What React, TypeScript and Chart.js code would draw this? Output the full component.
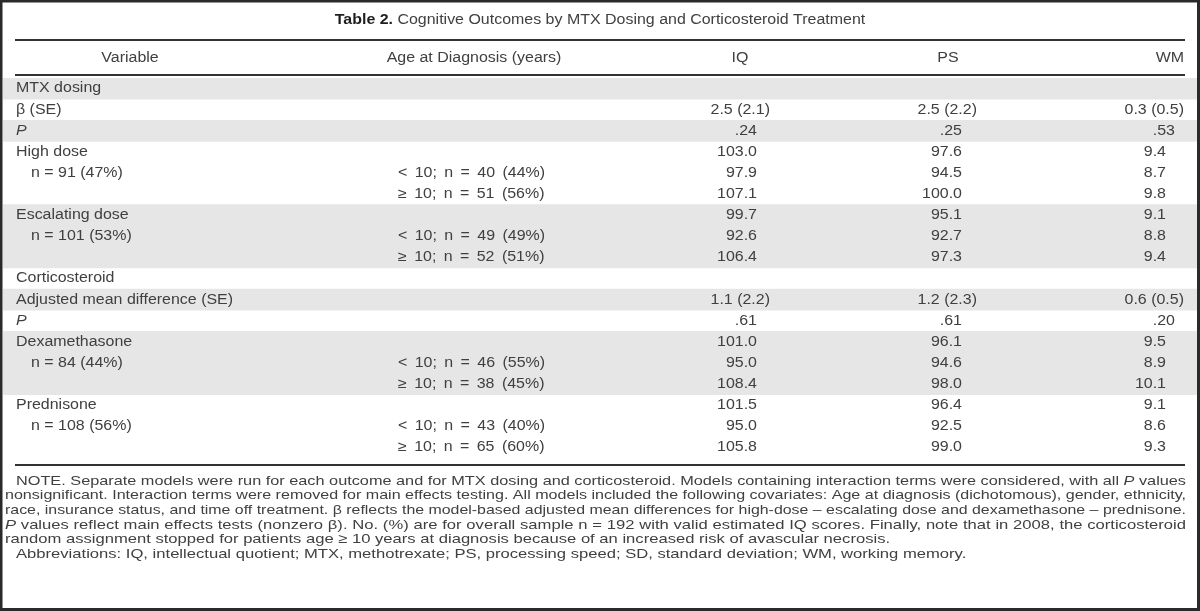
import React, { useEffect, useRef } from "react";
import { Chart, registerables } from "chart.js";

Chart.register(...registerables);

// ---------- data ----------
const TITLE_BOLD = "Table 2.";
const TITLE_REST = " Cognitive Outcomes by MTX Dosing and Corticosteroid Treatment";

const HEADERS = ["Variable", "Age at Diagnosis (years)", "IQ", "PS", "WM"];

const rowLabels = [
  "MTX dosing",
  "β (SE)",
  "P",
  "High dose",
  "n = 91 (47%)",
  "",
  "Escalating dose",
  "n = 101 (53%)",
  "",
  "Corticosteroid",
  "Adjusted mean difference (SE)",
  "P",
  "Dexamethasone",
  "n = 84 (44%)",
  "",
  "Prednisone",
  "n = 108 (56%)",
  "",
];
const rowIndent = [0, 0, 0, 0, 1, 0, 0, 1, 0, 0, 0, 0, 0, 1, 0, 0, 1, 0];
const rowItalic = [0, 0, 1, 0, 0, 0, 0, 0, 0, 0, 0, 1, 0, 0, 0, 0, 0, 0];
const rowShaded = [1, 0, 1, 0, 0, 0, 1, 1, 1, 0, 1, 0, 1, 1, 1, 0, 0, 0];
// kind of value in the numeric columns: n = number, p = P value, s = estimate (SE)
const rowKind = ["", "s", "p", "n", "n", "n", "n", "n", "n", "", "s", "p", "n", "n", "n", "n", "n", "n"];

const ageLabels = [
  "", "", "", "",
  "< 10; n = 40 (44%)",
  "≥ 10; n = 51 (56%)",
  "",
  "< 10; n = 49 (49%)",
  "≥ 10; n = 52 (51%)",
  "", "", "", "",
  "< 10; n = 46 (55%)",
  "≥ 10; n = 38 (45%)",
  "",
  "< 10; n = 43 (40%)",
  "≥ 10; n = 65 (60%)",
];

const iqValues = ["", "2.5 (2.1)", ".24", "103.0", "97.9", "107.1", "99.7", "92.6", "106.4", "", "1.1 (2.2)", ".61", "101.0", "95.0", "108.4", "101.5", "95.0", "105.8"];
const psValues = ["", "2.5 (2.2)", ".25", "97.6", "94.5", "100.0", "95.1", "92.7", "97.3", "", "1.2 (2.3)", ".61", "96.1", "94.6", "98.0", "96.4", "92.5", "99.0"];
const wmValues = ["", "0.3 (0.5)", ".53", "9.4", "8.7", "9.8", "9.1", "8.8", "9.4", "", "0.6 (0.5)", ".20", "9.5", "8.9", "10.1", "9.1", "8.6", "9.3"];

// words wrapped in _..._ are italic
const noteLines = [
  "NOTE. Separate models were run for each outcome and for MTX dosing and corticosteroid. Models containing interaction terms were considered, with all _P_ values",
  "nonsignificant. Interaction terms were removed for main effects testing. All models included the following covariates: Age at diagnosis (dichotomous), gender, ethnicity,",
  "race, insurance status, and time off treatment. β reflects the model-based adjusted mean differences for high-dose – escalating dose and dexamethasone – prednisone.",
  "_P_ values reflect main effects tests (nonzero β). No. (%) are for overall sample n = 192 with valid estimated IQ scores. Finally, note that in 2008, the corticosteroid",
  "random assignment stopped for patients age ≥ 10 years at diagnosis because of an increased risk of avascular necrosis.",
  "Abbreviations: IQ, intellectual quotient; MTX, methotrexate; PS, processing speed; SD, standard deviation; WM, working memory.",
];
const noteJustify = [1, 1, 1, 1, 0, 0];
const noteIndent = [1, 0, 0, 0, 0, 1];

// ---------- layout / style ----------
const W = 1200;
const H = 611;
const FONT = '"Liberation Sans", Arial, sans-serif';
const FS = 14;
const SX = 1.14; // horizontal stretch of the body text
const NFS = 13.5;
const NSX = 1.23; // horizontal stretch of the note text
const TEXT = "#404040";
const BAND = "#e6e6e6";
const RULE = "#333333";

const XMIN = 3;
const XMAX = 1198;

const TITLE_Y = 20;
const RULE1_Y = 40;
const HEADER_Y = 58;
const RULE2_Y = 75;
const ROWS_TOP = 78;
const ROWS_BOTTOM = 458;
const RULE3_Y = 465;
const NOTE_Y0 = 481;
const NOTE_PITCH = 14.6;

const RULE_L = 15;
const RULE_R = 1185;
const X_LABEL = 16;
const X_INDENT = 31;
const X_AGE = 398;
const AGE_WORD_SPACING = "2.6px";
const HEADER_X = [130, 474, 740, 948, 1184];
const COLS = [
  { values: iqValues, n: 757, p: 757, s: 770 },
  { values: psValues, n: 962, p: 962, s: 977 },
  { values: wmValues, n: 1166, p: 1175, s: 1184 },
];
const NOTE_L = 5;
const NOTE_L_INDENT = 16;
const NOTE_R = 1186;

function font(style = "normal", weight = "normal", size = FS) {
  return `${style} ${weight} ${size}px ${FONT}`;
}

function fillStretched(
  ctx: CanvasRenderingContext2D,
  text: string,
  x: number,
  y: number,
  align: CanvasTextAlign,
  sx: number
) {
  ctx.save();
  ctx.translate(x, y);
  ctx.scale(sx, 1);
  ctx.textAlign = align;
  ctx.fillText(text, 0, 0);
  ctx.restore();
}

function wordInfo(w: string) {
  const it = w.startsWith("_") && w.includes("_", 1);
  return { it, txt: it ? w.replace(/_/g, "") : w };
}

const tablePlugin = {
  id: "tableText",
  afterDatasetsDraw(chart: any) {
    const ctx: CanvasRenderingContext2D = chart.ctx;
    const y = chart.scales.y;
    const x = chart.scales.x;
    const px = (v: number) => x.getPixelForValue(v);
    ctx.save();
    ctx.fillStyle = TEXT;
    ctx.textBaseline = "middle";

    // title
    ctx.font = font("normal", "bold");
    const wb = ctx.measureText(TITLE_BOLD).width * SX;
    ctx.font = font();
    const wr = ctx.measureText(TITLE_REST).width * SX;
    const tx = W / 2 - (wb + wr) / 2;
    ctx.fillStyle = "#1e1e1e";
    ctx.font = font("normal", "bold");
    fillStretched(ctx, TITLE_BOLD, tx, TITLE_Y, "left", SX);
    ctx.fillStyle = TEXT;
    ctx.font = font();
    fillStretched(ctx, TITLE_REST, tx + wb, TITLE_Y, "left", SX);

    // rules
    ctx.strokeStyle = RULE;
    ctx.lineWidth = 2;
    [RULE1_Y, RULE2_Y, RULE3_Y].forEach((ry) => {
      ctx.beginPath();
      ctx.moveTo(RULE_L, ry);
      ctx.lineTo(RULE_R, ry);
      ctx.stroke();
    });

    // headers
    ctx.font = font();
    HEADERS.forEach((h, i) => {
      fillStretched(ctx, h, HEADER_X[i], HEADER_Y, i === 4 ? "right" : "center", SX);
    });

    // body
    rowLabels.forEach((lab, i) => {
      const cy = y.getPixelForValue(i);
      if (lab) {
        ctx.font = font(rowItalic[i] ? "italic" : "normal");
        fillStretched(ctx, lab, px(rowIndent[i] ? X_INDENT : X_LABEL), cy, "left", SX);
      }
      ctx.font = font();
      if (ageLabels[i]) {
        (ctx as any).wordSpacing = AGE_WORD_SPACING;
        fillStretched(ctx, ageLabels[i], px(X_AGE), cy, "left", SX);
        (ctx as any).wordSpacing = "0px";
      }
      COLS.forEach((c) => {
        const v = c.values[i];
        if (!v) return;
        const k = rowKind[i] as "n" | "p" | "s";
        fillStretched(ctx, v, px(c[k]), cy, "right", SX);
      });
    });

    // notes
    ctx.textAlign = "left";
    noteLines.forEach((line, i) => {
      const ly = NOTE_Y0 + i * NOTE_PITCH;
      const left = noteIndent[i] ? NOTE_L_INDENT : NOTE_L;
      const words = line.split(" ").map(wordInfo);
      const ws = words.map((w) => {
        ctx.font = font(w.it ? "italic" : "normal", "normal", NFS);
        return ctx.measureText(w.txt).width * NSX;
      });
      ctx.font = font("normal", "normal", NFS);
      const sp = ctx.measureText(" ").width * NSX;
      const sumW = ws.reduce((a, b) => a + b, 0);
      const natural = sumW + sp * (words.length - 1);
      const avail = NOTE_R - left;
      let k = 1;
      let gap = sp;
      if (natural > avail) {
        k = avail / natural;
      } else if (noteJustify[i]) {
        gap = (avail - sumW) / (words.length - 1);
      }
      let cx = left;
      words.forEach((w, j) => {
        ctx.font = font(w.it ? "italic" : "normal", "normal", NFS);
        fillStretched(ctx, w.txt, cx, ly, "left", NSX * k);
        cx += ws[j] * k + gap * k;
      });
    });

    // outer frame
    ctx.strokeStyle = "#2a2a2a";
    ctx.lineWidth = 3;
    ctx.strokeRect(1, 1, W - 2.5, H - 2.5);
    ctx.restore();
  },
};

export default function App() {
  const ref = useRef<HTMLCanvasElement>(null);
  useEffect(() => {
    document.body.style.margin = "0";
    const canvas = ref.current!;
    const chart = new Chart(canvas, {
      type: "bar",
      data: {
        labels: rowLabels.map((_, i) => String(i)),
        datasets: [
          {
            data: rowShaded.map((s) => (s ? [XMIN, XMAX] : null)) as any,
            backgroundColor: BAND,
            borderWidth: 0,
            barPercentage: 1,
            categoryPercentage: 1,
          },
        ],
      },
      options: {
        indexAxis: "y",
        responsive: false,
        maintainAspectRatio: false,
        animation: false,
        events: [],
        layout: { padding: { top: ROWS_TOP, bottom: H - ROWS_BOTTOM, left: XMIN, right: W - XMAX } },
        scales: {
          x: { type: "linear", min: XMIN, max: XMAX, display: false },
          y: { type: "category", display: false, offset: true },
        },
        plugins: { legend: { display: false }, tooltip: { enabled: false }, title: { display: false } },
      },
      plugins: [tablePlugin],
    });
    return () => chart.destroy();
  }, []);
  return (
    <div style={{ width: W, height: H, background: "#fff" }}>
      <canvas ref={ref} width={W} height={H} style={{ display: "block", width: W, height: H }} />
    </div>
  );
}
